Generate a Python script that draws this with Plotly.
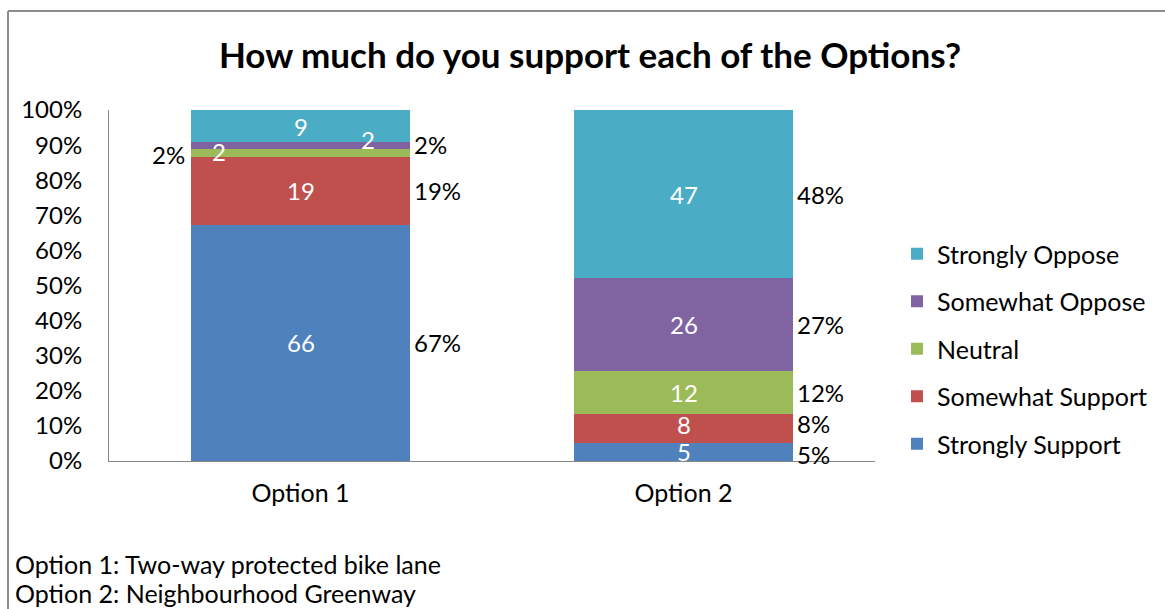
import plotly.graph_objects as go

# Survey responses (counts) for each option
categories = ["Option 1", "Option 2"]
series_names = ["Strongly Support", "Somewhat Support", "Neutral", "Somewhat Oppose", "Strongly Oppose"]
strongly_support = [66, 5]
somewhat_support = [19, 8]
neutral = [2, 12]
somewhat_oppose = [2, 26]
strongly_oppose = [9, 47]
series_values = [strongly_support, somewhat_support, neutral, somewhat_oppose, strongly_oppose]
colors = ["#4F81BD", "#C0504D", "#9BBB59", "#8064A2", "#4BACC6"]

# Which percentage labels are displayed beside the bars: (series index, category index) -> side
pct_label_side = {
    (0, 0): "right", (1, 0): "right", (2, 0): "left", (3, 0): "right",
    (0, 1): "right", (1, 1): "right", (2, 1): "right", (3, 1): "right", (4, 1): "right",
}
# Pixel nudges for the crowded labels
count_label_shift = {(2, 0): (-82, 1), (3, 0): (67, 6), (0, 1): (0, 1), (1, 1): (0, 4)}
pct_label_shift = {(2, 0): (0, -2), (3, 0): (0, 1), (0, 1): (0, -2), (1, 1): (0, 5)}

FONT = "Lato, 'Liberation Sans', sans-serif"
FS = 25
FS_IN = 24
W, H = 1165, 609
L, R, T, B = 109, 290, 110, 148
PW, PH = W - L - R, H - T - B
BAR_WIDTH = 0.57


def px_x(px):
    return (px - L) / PW


def px_y(py):
    return (H - B - py) / PH


fig = go.Figure()
n = len(series_names)
for si, (name, vals, col) in enumerate(zip(series_names, series_values, colors)):
    fig.add_trace(go.Bar(
        x=categories, y=vals, name=name, marker=dict(color=col, line=dict(width=0)),
        width=BAR_WIDTH, legendgroup=name, legendrank=n - si, hoverinfo="name+y",
    ))

annotations = []
totals = [sum(v[i] for v in series_values) for i in range(len(categories))]
for ci in range(len(categories)):
    base = 0.0
    for si, vals in enumerate(series_values):
        share = vals[ci] / totals[ci] * 100
        mid = base + share / 2
        dx, dy = count_label_shift.get((si, ci), (0, 0))
        annotations.append(dict(
            x=ci, y=mid, xref="x", yref="y", text=str(vals[ci]), showarrow=False,
            font=dict(family=FONT, size=FS_IN, color="white"), xshift=dx, yshift=dy,
        ))
        side = pct_label_side.get((si, ci))
        px_, py_ = pct_label_shift.get((si, ci), (0, 0))
        if side == "right":
            annotations.append(dict(
                x=ci + BAR_WIDTH / 2, y=mid, xref="x", yref="y", text=f"{round(share)}%",
                showarrow=False, xanchor="left", xshift=2 + px_, yshift=py_,
                font=dict(family=FONT, size=FS_IN, color="black"),
            ))
        elif side == "left":
            annotations.append(dict(
                x=ci - BAR_WIDTH / 2, y=mid, xref="x", yref="y", text=f"{round(share)}%",
                showarrow=False, xanchor="right", xshift=-4 + px_, yshift=py_,
                font=dict(family=FONT, size=FS_IN, color="black"),
            ))
        base += share

# Footnotes describing each option
for text, ypx in [("Option 1: Two-way protected bike lane", 564),
                  ("Option 2: Neighbourhood Greenway", 593)]:
    annotations.append(dict(
        x=px_x(13), y=px_y(ypx), xref="paper", yref="paper", xanchor="left", yanchor="middle",
        text=text, showarrow=False, font=dict(family=FONT, size=FS, color="black"),
    ))

# Outer chart frame (top and left edges)
shapes = [
    dict(type="line", xref="paper", yref="paper", x0=px_x(8), x1=px_x(W + 5),
         y0=px_y(11), y1=px_y(11), line=dict(color="#8C8C8C", width=2)),
    dict(type="line", xref="paper", yref="paper", x0=px_x(8), x1=px_x(8),
         y0=px_y(11), y1=px_y(H + 5), line=dict(color="#8C8C8C", width=2)),
]

fig.update_layout(
    width=W, height=H,
    margin=dict(l=L, r=R, t=T, b=B, pad=0),
    paper_bgcolor="white", plot_bgcolor="white",
    barmode="stack", barnorm="percent",
    title=dict(text="<b>How much do you support each of the Options?</b>",
               x=590 / W, xref="container", xanchor="center",
               y=1 - 56 / H, yref="container", yanchor="middle",
               font=dict(family=FONT, size=35, color="black")),
    font=dict(family=FONT, size=FS, color="black"),
    xaxis=dict(showline=True, linecolor="#868686", linewidth=1, ticks="",
               showgrid=False, tickfont=dict(size=FS), ticklabelstandoff=10,
               range=[-0.5, 1.5]),
    yaxis=dict(showline=True, linecolor="#868686", linewidth=1, ticks="",
               showgrid=False, range=[0, 100], dtick=10, ticksuffix="%",
               tickfont=dict(size=FS_IN), ticklabelstandoff=21, zeroline=False),
    legend=dict(x=px_x(897), y=px_y(231), xanchor="left", yanchor="top",
                traceorder="grouped", tracegroupgap=12,
                font=dict(family=FONT, size=FS), bgcolor="rgba(0,0,0,0)"),
    annotations=annotations, shapes=shapes,
    showlegend=True,
)

fig.write_html("out.html")
